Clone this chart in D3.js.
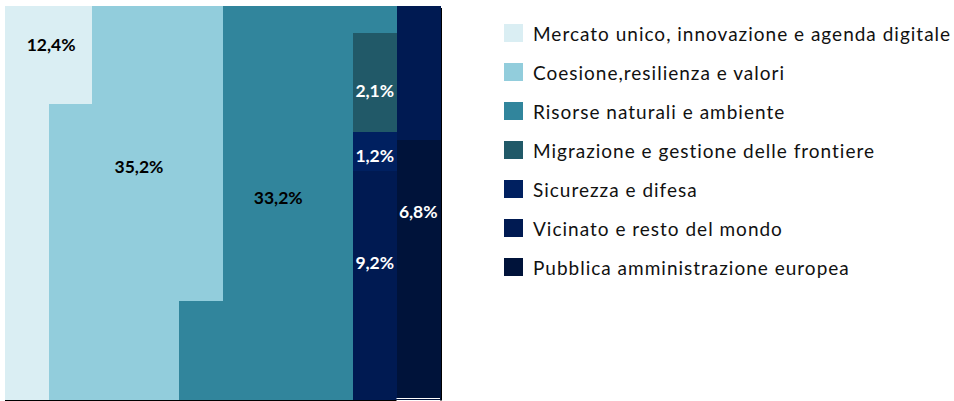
<!DOCTYPE html>
<html>
<head>
<meta charset="utf-8">
<script src="https://cdn.jsdelivr.net/npm/d3@7"></script>
<style>
  html, body { margin: 0; padding: 0; background: #fff; }
  svg { display: block; }
</style>
</head>
<body>
<svg id="chart" width="954" height="401"></svg>
<script>
// ---- Data ----
const categories = [
  "Mercato unico, innovazione e agenda digitale",
  "Coesione,resilienza e valori",
  "Risorse naturali e ambiente",
  "Migrazione e gestione delle frontiere",
  "Sicurezza e difesa",
  "Vicinato e resto del mondo",
  "Pubblica amministrazione europea"
];
const shareLabels = ["12,4%", "35,2%", "33,2%", "2,1%", "1,2%", "9,2%", "6,8%"];
const columns = [0, 1, 2, 3, 4, 5, 6, 7, 8, 9];
// portion of each column (out of 10) filled by each category, top to bottom
const mercato    = [10, 2.5, 0, 0, 0, 0, 0, 0, 0, 0];
const coesione   = [0, 7.5, 10, 10, 7.5, 0, 0, 0, 0, 0];
const risorse    = [0, 0, 0, 0, 2.5, 10, 10, 10, 0.7, 0];
const migrazione = [0, 0, 0, 0, 0, 0, 0, 0, 2.5, 0];
const sicurezza  = [0, 0, 0, 0, 0, 0, 0, 0, 1.0, 0];
const vicinato   = [0, 0, 0, 0, 0, 0, 0, 0, 5.8, 3.4];
const pubblica   = [0, 0, 0, 0, 0, 0, 0, 0, 0, 6.6];
const seriesValues = [mercato, coesione, risorse, migrazione, sicurezza, vicinato, pubblica];
// label anchor in data units: [column position, fill level from top]
const labelAnchors = [[1.06, 0.99], [3.08, 4.08], [6.28, 4.86], [8.5, 2.15], [8.5, 3.8], [8.5, 6.52], [9.5, 5.23]];

// ---- Style ----
const colors = ["#DAEEF3", "#92CDDC", "#31859C", "#215968", "#002060", "#001A52", "#00133A"];
const labelColors = ["#000", "#000", "#000", "#fff", "#fff", "#fff", "#fff"];

const svg = d3.select("#chart");
const plot = { left: 5, right: 440, top: 5.5, bottom: 400 };

const x = d3.scaleBand().domain(columns).range([plot.left, plot.right]).paddingInner(0).paddingOuter(0);
const xc = d3.scaleLinear().domain([0, 10]).range([plot.left, plot.right]);
const y = d3.scaleLinear().domain([0, 10]).range([plot.top, plot.bottom]);

const keys = categories.map((c, i) => "s" + i);
const table = columns.map(c => {
  const row = { col: c };
  seriesValues.forEach((s, i) => row[keys[i]] = s[c]);
  return row;
});
const stacked = d3.stack().keys(keys).order(d3.stackOrderNone).offset(d3.stackOffsetNone)(table);

// shadow on right side
svg.append("rect").attr("x", plot.right).attr("y", 8).attr("width", 2).attr("height", plot.bottom - 8 + 0.5).attr("fill", "#000");

const g = svg.append("g");
stacked.forEach((layer, i) => {
  g.selectAll(null).data(layer.filter(d => d[1] - d[0] > 0)).enter().append("rect")
    .attr("x", d => x(d.data.col))
    .attr("width", x.bandwidth() + 0.5)
    .attr("y", d => y(d[0]))
    .attr("height", d => y(d[1]) - y(d[0]) + 0.3)
    .attr("fill", colors[i])
    .attr("shape-rendering", "crispEdges");
});

// bottom axis line
svg.append("line").attr("x1", plot.left).attr("x2", x(9)).attr("y1", 400.5).attr("y2", 400.5)
  .attr("stroke", "#000").attr("stroke-width", 1);
svg.append("line").attr("x1", x(9)).attr("x2", plot.right).attr("y1", 398.5).attr("y2", 398.5)
  .attr("stroke", "#fff").attr("stroke-width", 1);

// data labels
svg.append("g").selectAll("text").data(shareLabels).enter().append("text")
  .attr("x", (d, i) => xc(labelAnchors[i][0]))
  .attr("y", (d, i) => y(labelAnchors[i][1]))
  .attr("text-anchor", "middle")
  .attr("dominant-baseline", "central")
  .attr("font-family", "Lato, 'Open Sans', sans-serif")
  .attr("font-weight", "bold")
  .attr("font-size", 17.5)
  .attr("fill", (d, i) => labelColors[i])
  .text(d => d);

// legend
const legend = svg.append("g").attr("transform", "translate(504,24)");
const items = legend.selectAll("g").data(categories).enter().append("g")
  .attr("transform", (d, i) => `translate(0,${i * 39})`);
items.append("rect").attr("width", 19).attr("height", 18).attr("fill", (d, i) => colors[i]);
items.append("text")
  .attr("x", 29).attr("y", 17)
  .attr("font-family", "Lato, 'Open Sans', sans-serif")
  .attr("font-size", 19)
  .attr("letter-spacing", 1.0)
  .attr("fill", "#111")
  .text(d => d);
</script>
</body>
</html>
